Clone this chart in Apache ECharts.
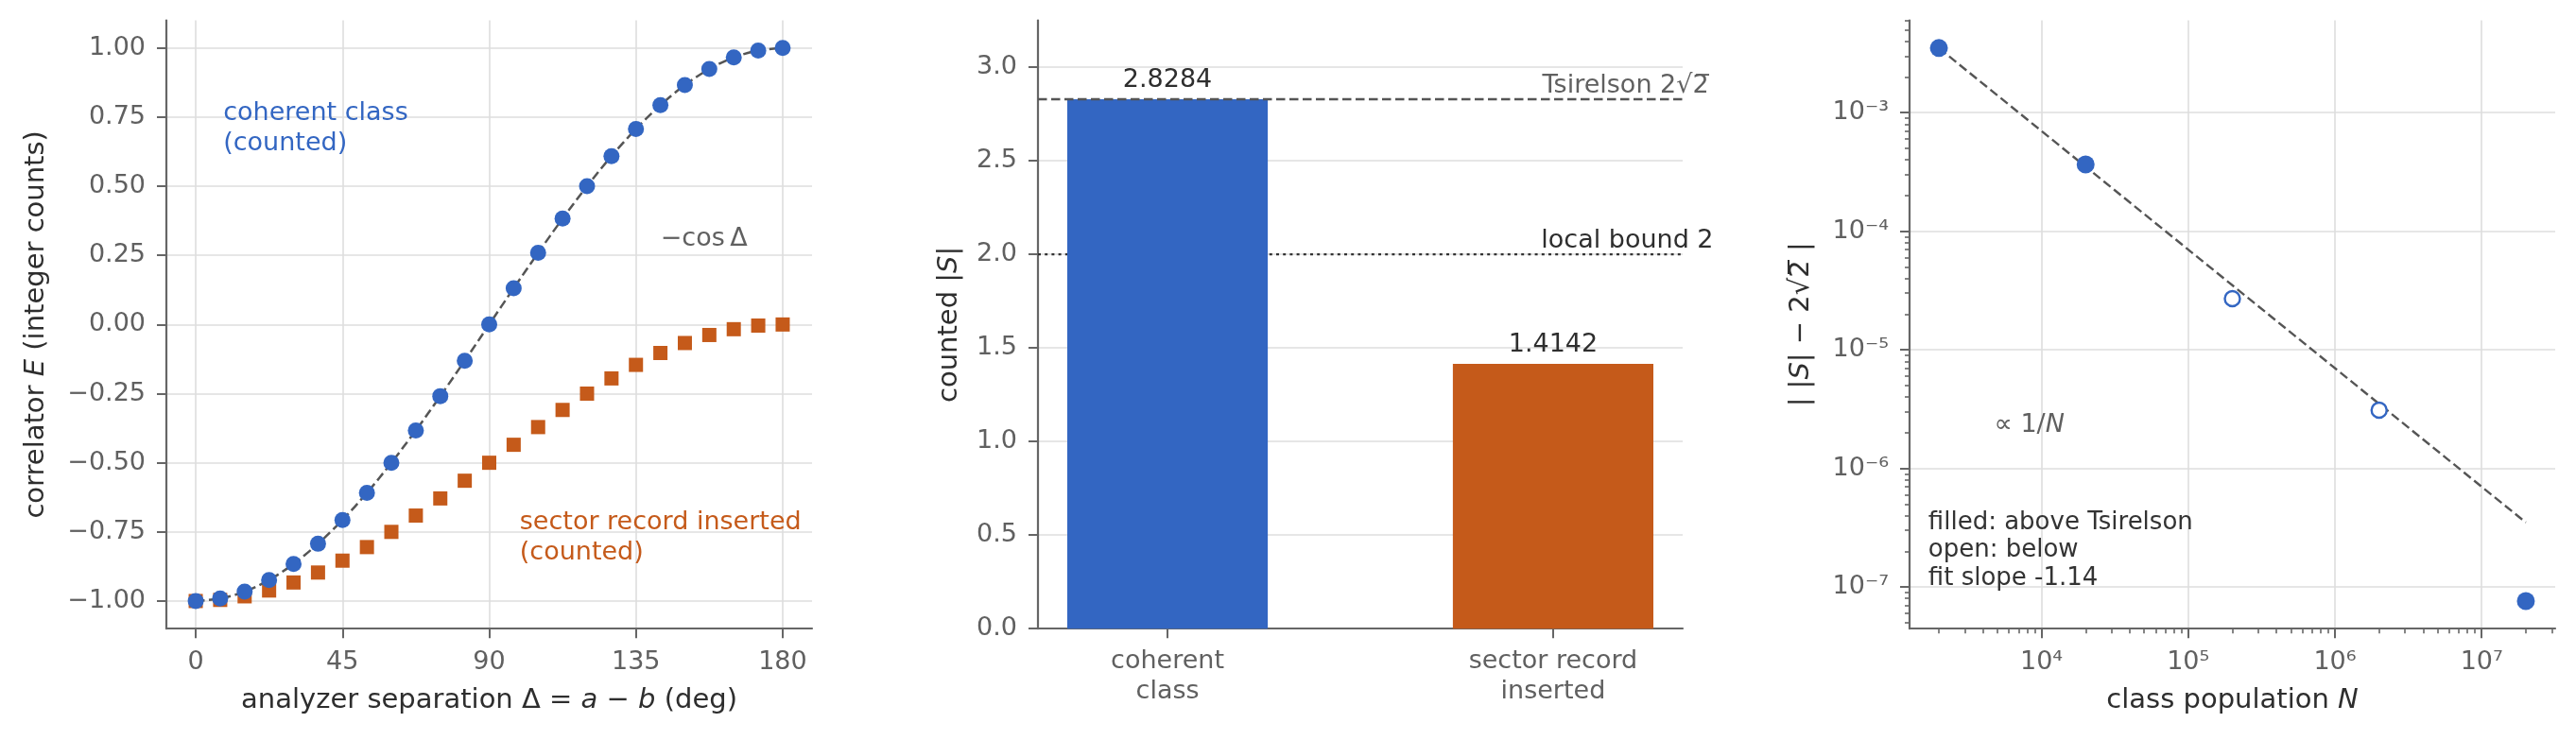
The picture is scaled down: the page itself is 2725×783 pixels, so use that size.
<!DOCTYPE html>
<html>
<head>
<meta charset="utf-8">
<script src="https://cdn.jsdelivr.net/npm/echarts@6/dist/echarts.min.js"></script>
<style>
html,body{margin:0;padding:0;background:#ffffff;}
#chart{width:2725px;height:783px;}
</style>
</head>
<body>
<div id="chart"></div>
<script>
// ---------------- data ----------------
// Panel 1: correlator vs analyzer separation
const deltaDeg = [0, 7.5, 15, 22.5, 30, 37.5, 45, 52.5, 60, 67.5, 75, 82.5, 90, 97.5, 105, 112.5, 120, 127.5, 135, 142.5, 150, 157.5, 165, 172.5, 180];
const coherentE = [-1.000, -0.991, -0.966, -0.924, -0.866, -0.793, -0.707, -0.609, -0.500, -0.383, -0.259, -0.131, 0.000, 0.131, 0.259, 0.383, 0.500, 0.609, 0.707, 0.793, 0.866, 0.924, 0.966, 0.991, 1.000];
const sectorE = [-1.000, -0.996, -0.983, -0.962, -0.933, -0.897, -0.854, -0.805, -0.750, -0.691, -0.629, -0.565, -0.500, -0.435, -0.371, -0.309, -0.250, -0.195, -0.146, -0.103, -0.067, -0.038, -0.017, -0.004, 0.000];
const minusCosE = [-1.000, -0.991, -0.966, -0.924, -0.866, -0.793, -0.707, -0.609, -0.500, -0.383, -0.259, -0.131, 0.000, 0.131, 0.259, 0.383, 0.500, 0.609, 0.707, 0.793, 0.866, 0.924, 0.966, 0.991, 1.000];
const xTicks1 = [0, 45, 90, 135, 180];
const yTicks1 = [-1.00, -0.75, -0.50, -0.25, 0.00, 0.25, 0.50, 0.75, 1.00];

// Panel 2: counted |S|
const barCategories = ['coherent\nclass', 'sector record\ninserted'];
const barPositions = [0, 1];
const barValues = [2.8284, 1.4142];
const tsirelsonBound = 2.8284;
const localBound = 2.0;
const yTicks2 = [0.0, 0.5, 1.0, 1.5, 2.0, 2.5, 3.0];

// Panel 3: deviation vs class population
const classN = [2e3, 2e4, 2e5, 2e6, 2e7];
const deviation = [3.5e-3, 3.65e-4, 2.7e-5, 3.1e-6, 7.6e-8];
const aboveTsirelson = [true, true, false, false, true];
const refLineN = [2e3, 2e7];
const refLineDev = [3.5e-3, 3.5e-7];
const xTicks3 = [1e4, 1e5, 1e6, 1e7];
const yTicks3 = [1e-7, 1e-6, 1e-5, 1e-4, 1e-3];

// ---------------- styling ----------------
const FONT = 'DejaVu Sans';
const BLUE = '#3366c2';
const ORANGE = '#c55a1a';
const GRID_C = '#dedede';
const SPINE_C = '#666666';
const TICK_LBL = '#606060';
const TITLE_C = '#2e2e2e';
const REF_C = '#555555';

// axis limits
const X1 = [-9, 189], Y1 = [-1.1, 1.1];
const X2 = [-0.336, 1.336], Y2 = [0, 3.25];
const X3 = [1262, 3.17e7], Y3 = [4.45e-8, 6.0e-3];

// minor ticks for log axes (axis decoration)
function logMinor(lo, hi) {
  const out = [];
  for (let k = Math.floor(Math.log10(lo)) - 1; k <= Math.ceil(Math.log10(hi)); k++) {
    for (let m = 2; m <= 9; m++) {
      const v = m * Math.pow(10, k);
      if (v >= lo && v <= hi) out.push(v);
    }
  }
  return out;
}
const minorX3 = logMinor(X3[0], X3[1]);
const minorY3 = logMinor(Y3[0], Y3[1]);

const SUP = {'-': '\u207B', '0': '\u2070', '1': '\u00B9', '2': '\u00B2', '3': '\u00B3', '4': '\u2074', '5': '\u2075', '6': '\u2076', '7': '\u2077', '8': '\u2078', '9': '\u2079'};
function pow10Label(v) {
  const e = Math.round(Math.log10(v));
  return '10' + String(e).split('').map(c => SUP[c]).join('');
}
function fixed(v, d) {
  const s = Number(v).toFixed(d);
  return (Number(s) < 0 ? '\u2212' + s.slice(1) : s.replace('-', ''));
}

const italic = {fontStyle: 'italic', fontFamily: FONT, fontSize: 29, color: TITLE_C};
function nameStyle() {
  return {fontFamily: FONT, fontSize: 29, color: TITLE_C, rich: {i: Object.assign({}, italic)}};
}
function axisCommon(o) {
  const a = {
    type: 'value',
    axisLine: {show: true, onZero: false, lineStyle: {color: SPINE_C, width: 2.2}},
    axisTick: {show: true, inside: false, length: 10, lineStyle: {color: SPINE_C, width: 2}},
    axisLabel: {show: true, color: TICK_LBL, fontFamily: FONT, fontSize: 27, margin: 22},
    splitLine: {show: true, lineStyle: {color: GRID_C, width: 1.6}},
    nameLocation: 'middle',
    nameTextStyle: nameStyle()
  };
  for (const k in o) {
    if (a[k] && typeof a[k] === 'object' && !Array.isArray(a[k]) && typeof o[k] === 'object') {
      a[k] = Object.assign({}, a[k], o[k]);
    } else {
      a[k] = o[k];
    }
  }
  return a;
}

function textItems(items) {
  return items.map(t => ({
    value: t.at,
    label: Object.assign({
      show: true,
      position: [0, 0],
      fontFamily: FONT,
      fontSize: 27,
      opacity: 1
    }, t.label)
  }));
}
function textSeries(xi, yi, items) {
  return {
    type: 'scatter', xAxisIndex: xi, yAxisIndex: yi,
    symbolSize: 1, itemStyle: {color: 'rgba(0,0,0,0)', opacity: 1},
    silent: true, clip: false, z: 20,
    data: textItems(items)
  };
}

// ---------------- option ----------------
const option = {
  backgroundColor: '#ffffff',
  animation: false,
  grid: [
    {left: 176, top: 21.5, width: 683, height: 643.7, containLabel: false, outerBoundsMode: 'none'},
    {left: 1098, top: 21.5, width: 682, height: 643.7, containLabel: false, outerBoundsMode: 'none'},
    {left: 2020, top: 21.5, width: 683, height: 643.7, containLabel: false, outerBoundsMode: 'none'}
  ],
  xAxis: [
    axisCommon({
      gridIndex: 0, min: X1[0], max: X1[1],
      axisTick: {customValues: xTicks1},
      axisLabel: {customValues: xTicks1, formatter: v => String(v)},
      name: 'analyzer separation \u0394 = {i|a} \u2212 {i|b} (deg)', nameGap: 62
    }),
    axisCommon({
      gridIndex: 1, min: X2[0], max: X2[1],
      axisTick: {customValues: barPositions},
      axisLabel: {customValues: barPositions, lineHeight: 32, margin: 19,
        formatter: v => barCategories[Math.round(v)]},
      splitLine: {show: false}
    }),
    axisCommon({
      gridIndex: 2, type: 'log', logBase: 10, min: X3[0], max: X3[1],
      axisTick: {customValues: xTicks3},
      axisLabel: {customValues: xTicks3, formatter: v => pow10Label(v)},
      name: 'class population {i|N}', nameGap: 62
    }),
    axisCommon({
      gridIndex: 2, type: 'log', logBase: 10, min: X3[0], max: X3[1], position: 'bottom',
      axisLine: {show: false},
      axisTick: {customValues: minorX3, length: 5, lineStyle: {color: SPINE_C, width: 1.6}},
      axisLabel: {show: false},
      splitLine: {show: false}
    })
  ],
  yAxis: [
    axisCommon({
      gridIndex: 0, min: Y1[0], max: Y1[1],
      axisTick: {customValues: yTicks1},
      axisLabel: {customValues: yTicks1, formatter: v => fixed(v, 2)},
      name: 'correlator {i|E} (integer counts)', nameGap: 123
    }),
    axisCommon({
      gridIndex: 1, min: Y2[0], max: Y2[1],
      axisTick: {customValues: yTicks2},
      axisLabel: {customValues: yTicks2, formatter: v => fixed(v, 1)},
      name: 'counted |{i|S}|', nameGap: 79
    }),
    axisCommon({
      gridIndex: 2, type: 'log', logBase: 10, min: Y3[0], max: Y3[1],
      axisTick: {customValues: yTicks3},
      axisLabel: {customValues: yTicks3, formatter: v => pow10Label(v)},
      name: '| |{i|S}| \u2212 2\u221A2\u0305 |', nameGap: 100
    }),
    axisCommon({
      gridIndex: 2, type: 'log', logBase: 10, min: Y3[0], max: Y3[1], position: 'left',
      axisLine: {show: false},
      axisTick: {customValues: minorY3, length: 5, lineStyle: {color: SPINE_C, width: 1.6}},
      axisLabel: {show: false},
      splitLine: {show: false}
    })
  ],
  series: [
    // ---- panel 1 ----
    {
      type: 'scatter', xAxisIndex: 0, yAxisIndex: 0, z: 2,
      symbol: 'rect', symbolSize: 15, itemStyle: {color: ORANGE, opacity: 1},
      data: deltaDeg.map((d, i) => [d, sectorE[i]])
    },
    {
      type: 'line', xAxisIndex: 0, yAxisIndex: 0, z: 3,
      smooth: 0.3, symbol: 'none',
      lineStyle: {color: REF_C, width: 2.5, type: [9.5, 4.5], opacity: 1},
      data: deltaDeg.map((d, i) => [d, minusCosE[i]])
    },
    {
      type: 'scatter', xAxisIndex: 0, yAxisIndex: 0, z: 4,
      symbol: 'circle', symbolSize: 17, itemStyle: {color: BLUE, opacity: 1},
      data: deltaDeg.map((d, i) => [d, coherentE[i]])
    },
    textSeries(0, 0, [
      {at: [8.6, 0.707], label: {formatter: 'coherent class\n(counted)', color: BLUE, align: 'left', verticalAlign: 'middle', lineHeight: 32.4}},
      {at: [156, 0.306], label: {formatter: '\u2212cos\u2009\u0394', color: TICK_LBL, align: 'center', verticalAlign: 'middle'}},
      {at: [99.5, -0.773], label: {formatter: 'sector record inserted\n(counted)', color: ORANGE, align: 'left', verticalAlign: 'middle', lineHeight: 32.4}}
    ]),
    // ---- panel 2 ----
    {
      type: 'line', xAxisIndex: 1, yAxisIndex: 1, z: 1,
      symbol: 'none', lineStyle: {color: '#333333', width: 2.4, type: [3, 4.2], opacity: 1},
      data: [[X2[0], localBound], [X2[1], localBound]]
    },
    {
      type: 'custom', xAxisIndex: 1, yAxisIndex: 1, z: 2,
      data: barPositions.map((p, i) => [p, barValues[i], i]),
      renderItem: function (params, api) {
        const x = api.value(0), v = api.value(1), idx = api.value(2);
        const p0 = api.coord([x - 0.26, v]);
        const p1 = api.coord([x + 0.26, 0]);
        return {
          type: 'rect',
          shape: {x: p0[0], y: p0[1], width: p1[0] - p0[0], height: p1[1] - p0[1]},
          style: {fill: idx === 0 ? BLUE : ORANGE, opacity: 1}
        };
      }
    },
    {
      type: 'line', xAxisIndex: 1, yAxisIndex: 1, z: 3,
      symbol: 'none', lineStyle: {color: REF_C, width: 2.5, type: [9.5, 4.5], opacity: 1},
      data: [[X2[0], tsirelsonBound], [X2[1], tsirelsonBound]]
    },
    {
      type: 'scatter', xAxisIndex: 1, yAxisIndex: 1, z: 20,
      symbolSize: 1, itemStyle: {color: 'rgba(0,0,0,0)', opacity: 1}, silent: true, clip: false,
      label: {show: true, position: 'top', distance: 6, fontFamily: FONT, fontSize: 27, color: TITLE_C, opacity: 1,
        formatter: p => p.value[1].toFixed(4)},
      data: barPositions.map((p, i) => [p, barValues[i]])
    },
    textSeries(1, 1, [
      {at: [1.405, tsirelsonBound], label: {formatter: 'Tsirelson 2\u221A2\u0305', color: TICK_LBL, align: 'right', verticalAlign: 'bottom'}},
      {at: [1.417, localBound], label: {formatter: 'local bound 2', color: TITLE_C, align: 'right', verticalAlign: 'bottom'}}
    ]),
    // ---- panel 3 ----
    {
      type: 'line', xAxisIndex: 2, yAxisIndex: 2, z: 2,
      symbol: 'none', lineStyle: {color: REF_C, width: 2.4, type: [9.5, 4.5], opacity: 1},
      data: refLineN.map((n, i) => [n, refLineDev[i]])
    },
    {
      type: 'scatter', xAxisIndex: 2, yAxisIndex: 2, z: 4,
      symbol: 'circle', symbolSize: 19, itemStyle: {color: BLUE, opacity: 1},
      data: classN.map((n, i) => [n, deviation[i]]).filter((d, i) => aboveTsirelson[i])
    },
    {
      type: 'scatter', xAxisIndex: 2, yAxisIndex: 2, z: 4,
      symbol: 'circle', symbolSize: 16, itemStyle: {color: '#ffffff', borderColor: BLUE, borderWidth: 2.4, opacity: 1},
      data: classN.map((n, i) => [n, deviation[i]]).filter((d, i) => !aboveTsirelson[i])
    },
    textSeries(2, 2, [
      {at: [4797, 2.3e-6], label: {formatter: '\u221D 1/{i|N}', color: TICK_LBL, align: 'left', verticalAlign: 'middle',
        rich: {i: {fontStyle: 'italic', fontFamily: FONT, fontSize: 27, color: TICK_LBL}}}},
      {at: [1706, 2.01e-7], label: {formatter: 'filled: above Tsirelson\nopen: below\nfit slope -1.14', color: '#333333', fontSize: 26,
        align: 'left', verticalAlign: 'middle', lineHeight: 29.5}}
    ])
  ]
};

const chart = echarts.init(document.getElementById('chart'), null, {renderer: 'canvas'});
chart.setOption(option);
</script>
</body>
</html>
